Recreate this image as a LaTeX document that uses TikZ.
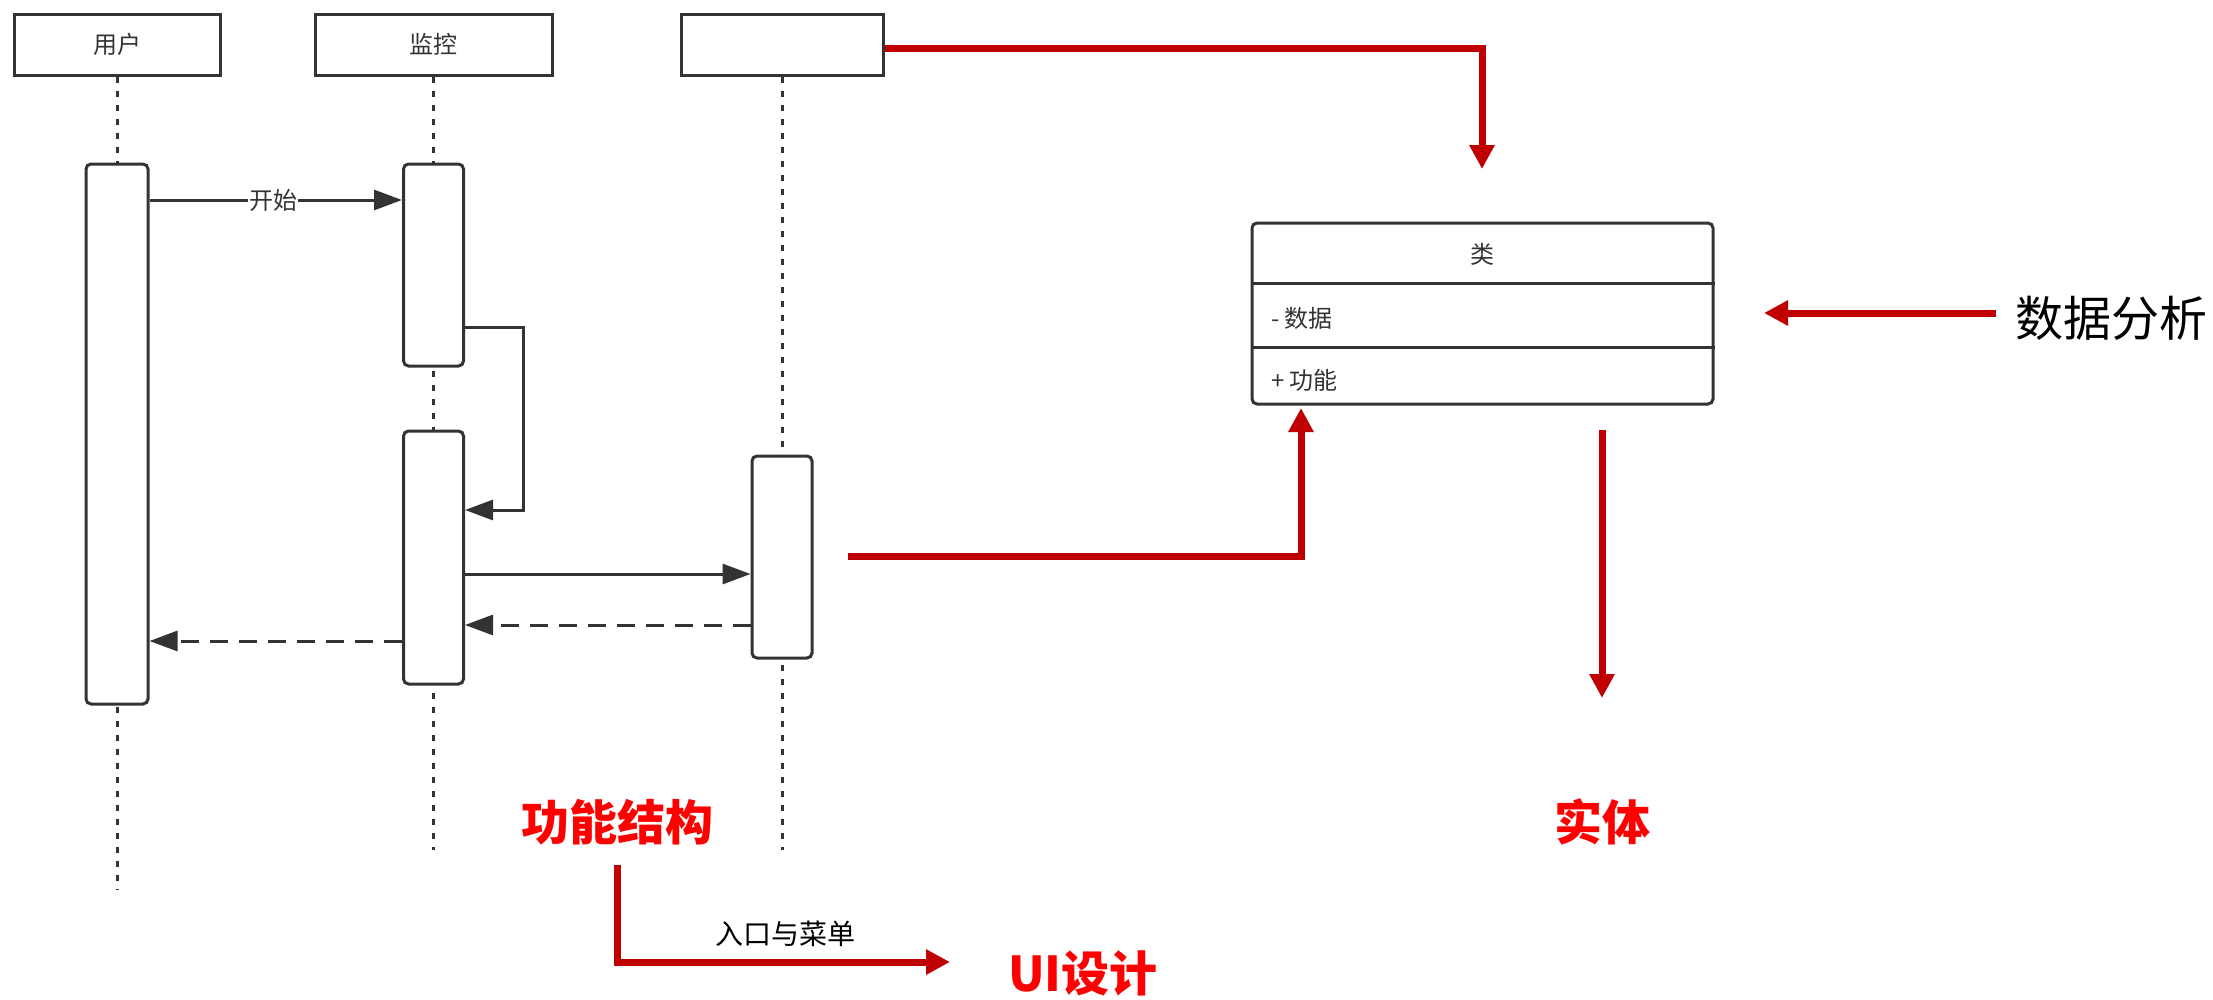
\documentclass[tikz,border=0pt]{standalone}
\usepackage{fontspec}
\setmainfont{Noto Sans CJK SC}
\usetikzlibrary{arrows.meta}
\definecolor{ln}{HTML}{333333}
\definecolor{dred}{HTML}{C00000}
\definecolor{bred}{HTML}{FF0000}
\begin{document}
\begin{tikzpicture}[x=1pt,y=-1pt,
  hdr/.style={draw=ln, line width=3pt, rectangle, fill=white, inner sep=0pt, minimum height=61pt, font=\fontsize{24}{28}\selectfont, text=ln},
  act/.style={draw=ln, line width=3pt, rectangle, rounded corners=5pt, fill=white, inner sep=0pt, minimum width=60pt},
  life/.style={draw=ln, line width=3pt, dash pattern=on 6pt off 8pt},
  msg/.style={draw=ln, line width=3pt, -{Triangle[length=28pt,width=20pt]}},
  ret/.style={msg, dash pattern=on 18pt off 11pt},
  lbl/.style={font=\fontsize{24}{28}\selectfont, text=ln, inner sep=1pt},
  rarr/.style={draw=dred, line width=7pt, -{Triangle[length=24pt,width=24pt]}},
  big/.style={font=\bfseries\fontsize{48}{52}\selectfont, text=bred, inner sep=0pt}
]
\useasboundingbox (0,0) rectangle (2213,999);
\fill[white] (0,0) rectangle (2213,999);

% headers
\node[hdr, minimum width=206pt] (u) at (117,44.5) {用户};
\node[hdr, minimum width=237pt] (m) at (433.5,44.5) {监控};
\node[hdr, minimum width=202pt] (h3) at (782,44.5) {};

% lifeline ends
\coordinate (uend) at (117,890);
\coordinate (mend) at (433.5,850);
\coordinate (hend) at (782,850);
\draw[life] (u.south) -- (uend);
\draw[life] (m.south) -- (mend);
\draw[life] (h3.south) -- (hend);

% activations
\node[act, minimum width=62pt, minimum height=540pt] (ua) at (117,434) {};
\node[act, minimum height=202pt] (b1) at (433.5,265) {};
\node[act, minimum height=253pt] (b2) at (433.5,557.5) {};
\node[act, minimum height=202pt] (c1) at (782,557) {};

% messages
\coordinate (m1) at (0,200);
\draw[msg] (ua.east |- m1) -- node[lbl, fill=white, pos=0.49] (ks) {开始} (b1.west |- m1);
\coordinate (s1) at (0,327);
\coordinate (sc) at (523,510);
\draw[msg] (b1.east |- s1) -| (sc) -- (b2.east |- sc);
\coordinate (m2) at (0,574);
\draw[msg] (b2.east |- m2) -- (c1.west |- m2);
\coordinate (m3) at (0,625);
\draw[ret] (c1.west |- m3) -- (b2.east |- m3);
\coordinate (m4) at (0,641);
\draw[ret] (b2.west |- m4) -- (ua.east |- m4);

% class box
\node[draw=ln, line width=3pt, rounded corners=5pt, minimum width=461pt, minimum height=181pt, inner sep=0pt] (cls) at (1482.5,313.5) {};
\coordinate (d1) at (0,283);
\coordinate (d2) at (0,347);
\draw[ln, line width=3pt] (cls.west |- d1) -- (cls.east |- d1);
\draw[ln, line width=3pt] (cls.west |- d2) -- (cls.east |- d2);
\node[lbl] (clt) at (1482.5,254) {类};
\node[lbl, anchor=west] (att) at (1270,318) {- 数据};
\node[lbl, anchor=west] (op) at (1270,380) {+ 功能};

% red annotations
\coordinate (r0) at (0,48);
\coordinate (r1) at (1482,169);
\draw[rarr] (h3.east |- r0) -| (r1);

\node[anchor=west, inner sep=0pt, font=\fontsize{48}{52}\selectfont, text=black] (sjfx) at (2015,318) {数据分析};
\coordinate (ra) at (1996,313);
\coordinate (rb) at (1764,313);
\draw[rarr] (ra) -- (rb);

\coordinate (rc) at (848,556);
\coordinate (rd) at (1301,408);
\draw[rarr] (rc) -| (rd);

\coordinate (re) at (1602,430);
\coordinate (rf) at (1602,698);
\draw[rarr] (re) -- (rf);
\node[big] (st) at (1602,822) {实体};

\node[big] (gnjg) at (617,822) {功能结构};
\coordinate (rg) at (617,865);
\coordinate (rh) at (950,962);
\draw[rarr] (rg) |- (rh);
\node[font=\fontsize{28}{32}\selectfont, text=black, inner sep=0pt] (rk) at (785,934) {入口与菜单};
\node[big] (ui) at (1083,973) {UI设计};
\end{tikzpicture}
\end{document}
